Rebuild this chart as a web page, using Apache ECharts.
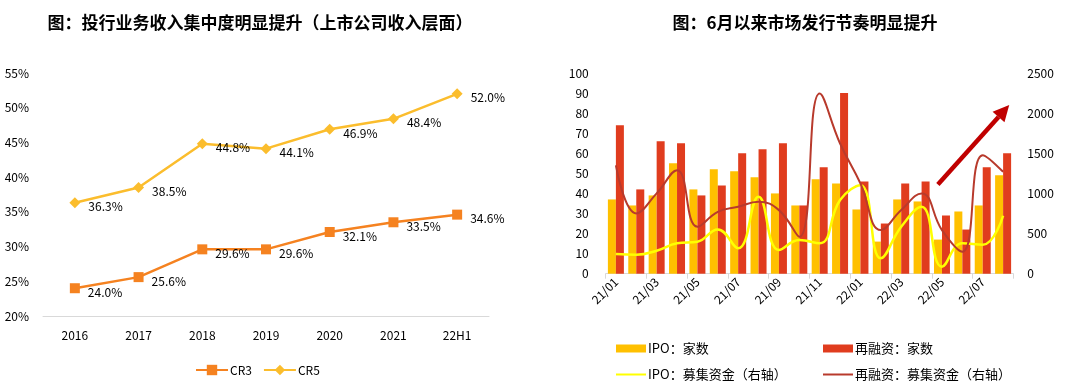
<!DOCTYPE html>
<html><head><meta charset="utf-8">
<script src="https://cdn.jsdelivr.net/npm/echarts@6/dist/echarts.min.js"></script>
<style>html,body{margin:0;padding:0;background:#fff}#c{width:1065px;height:389px}</style>
</head><body><div id="c"></div>
<script>
// ---- Left chart data ----
const years = ['2016','2017','2018','2019','2020','2021','22H1'];
const cr3 = [24.0, 25.6, 29.6, 29.6, 32.1, 33.5, 34.6];
const cr5 = [36.3, 38.5, 44.8, 44.1, 46.9, 48.4, 52.0];

// ---- Right chart data ----
const months = ['21/01','21/02','21/03','21/04','21/05','21/06','21/07','21/08','21/09','21/10','21/11','21/12',
                '22/01','22/02','22/03','22/04','22/05','22/06','22/07','22/08'];
const ipoCount  = [37,34,39,55,42,52,51,48,40,34,47,45,32,16,37,36,17,31,34,49];
const refiCount = [74,42,66,65,39,44,60,62,65,34,53,90,46,25,45,46,29,22,53,60];
const ipoFunds  = [245,236,286,378,398,552,316,958,295,419,378,917,1103,191,585,834,87,378,360,722];
const refiFunds = [1349,751,1000,1290,585,771,834,896,792,460,2244,1622,1124,543,792,1000,543,274,1477,1269];
// arrow annotation (category index, left-axis value)
const arrowFrom = [15.8, 44.5];
const arrowTo = [19.3, 84];

const FONT = "'Noto Sans CJK SC', 'Noto Sans', sans-serif";
const chart = echarts.init(document.getElementById('c'));
const pctLabel = p => p.value.toFixed(1) + '%';

chart.setOption({
  animation: false,
  textStyle: {fontFamily: FONT},
  title: [
    {text: '图：投行业务收入集中度明显提升（上市公司收入层面）', left: 255, top: 9, textAlign: 'center',
     textStyle: {fontSize: 17, fontWeight: 'bold', color: '#000', fontFamily: FONT}},
    {text: '图：6月以来市场发行节奏明显提升', left: 800, top: 9, textAlign: 'center',
     textStyle: {fontSize: 17, fontWeight: 'bold', color: '#000', fontFamily: FONT}}
  ],
  legend: [
    {data: ['CR3','CR5'], left: 190, top: 359, itemWidth: 32, itemHeight: 13, itemGap: 11,
     textStyle: {fontSize: 12, color: '#000', fontFamily: FONT, padding: [0, 0, 0, -3]}},
    {data: [{name: 'IPO：家数', icon: 'rect'}], left: 611, top: 337, itemWidth: 30, itemHeight: 8,
     textStyle: {fontSize: 13, color: '#000', fontFamily: FONT, padding: [0, 0, 0, -3]}},
    {data: [{name: '再融资：家数', icon: 'rect'}], left: 818, top: 337, itemWidth: 30, itemHeight: 8,
     textStyle: {fontSize: 13, color: '#000', fontFamily: FONT, padding: [0, 0, 0, -3]}},
    {data: [{name: 'IPO：募集资金（右轴）', icon: 'rect'}], left: 611, top: 363, itemWidth: 30, itemHeight: 2,
     textStyle: {fontSize: 13, color: '#000', fontFamily: FONT, padding: [0, 0, 0, -3]}},
    {data: [{name: '再融资：募集资金（右轴）', icon: 'rect'}], left: 818, top: 363, itemWidth: 30, itemHeight: 2,
     textStyle: {fontSize: 13, color: '#000', fontFamily: FONT, padding: [0, 0, 0, -3]}}
  ],
  grid: [
    {left: 43, right: 576, top: 73, bottom: 73},
    {left: 605.7, right: 51.7, top: 73, bottom: 115.3}
  ],
  xAxis: [
    {gridIndex: 0, type: 'category', data: years, boundaryGap: true,
     axisLine: {lineStyle: {color: '#d9d9d9', width: 1}}, axisTick: {show: false},
     axisLabel: {color: '#000', fontSize: 12, margin: 13, fontFamily: FONT}},
    {gridIndex: 1, type: 'category', data: months, boundaryGap: true,
     axisLine: {lineStyle: {color: '#d9d9d9', width: 1}},
     axisTick: {show: true, interval: 1, length: 5, lineStyle: {color: '#d9d9d9'}},
     axisLabel: {interval: 1, rotate: 45, color: '#000', fontSize: 12, margin: 6, fontFamily: FONT}}
  ],
  yAxis: [
    {gridIndex: 0, type: 'value', min: 20, max: 55, interval: 5,
     axisLine: {show: false}, axisTick: {show: false}, splitLine: {show: false},
     axisLabel: {formatter: '{value}%', color: '#000', fontSize: 12, margin: 14, fontFamily: FONT}},
    {gridIndex: 1, type: 'value', min: 0, max: 100, interval: 10,
     axisLine: {show: false}, axisTick: {show: false}, splitLine: {show: false},
     axisLabel: {color: '#000', fontSize: 12, margin: 17, fontFamily: FONT}},
    {gridIndex: 1, type: 'value', min: 0, max: 2500, interval: 500, position: 'right',
     axisLine: {show: false}, axisTick: {show: false}, splitLine: {show: false},
     axisLabel: {formatter: v => String(v), color: '#000', fontSize: 12, margin: 14, fontFamily: FONT}}
  ],
  series: [
    {name: 'CR3', type: 'line', xAxisIndex: 0, yAxisIndex: 0, data: cr3,
     symbol: 'rect', symbolSize: 10, itemStyle: {color: '#F58220'},
     lineStyle: {color: '#F58220', width: 2.5},
     label: {show: true, position: 'right', distance: 8, offset: [0, 4], formatter: pctLabel,
             color: '#000', fontSize: 12, fontFamily: FONT}},
    {name: 'CR5', type: 'line', xAxisIndex: 0, yAxisIndex: 0, data: cr5,
     symbol: 'diamond', symbolSize: 11, itemStyle: {color: '#FBBD2D'},
     lineStyle: {color: '#FBBD2D', width: 2.5},
     label: {show: true, position: 'right', distance: 8, offset: [0, 4], formatter: pctLabel,
             color: '#000', fontSize: 12, fontFamily: FONT}},
    {name: 'IPO：家数', type: 'bar', xAxisIndex: 1, yAxisIndex: 1, data: ipoCount,
     barWidth: 8, barGap: '0%', itemStyle: {color: '#FFC000'}},
    {name: '再融资：家数', type: 'bar', xAxisIndex: 1, yAxisIndex: 1, data: refiCount,
     barWidth: 8, barGap: '0%', itemStyle: {color: '#E03C1E'}},
    {name: 'IPO：募集资金（右轴）', type: 'line', xAxisIndex: 1, yAxisIndex: 2, data: ipoFunds,
     smooth: 0.45, showSymbol: false, symbol: 'none', itemStyle: {color: '#FFFF00'},
     lineStyle: {color: '#FFFF00', width: 2.5}},
    {name: '再融资：募集资金（右轴）', type: 'line', xAxisIndex: 1, yAxisIndex: 2, data: refiFunds,
     smooth: 0.45, showSymbol: false, symbol: 'none', itemStyle: {color: '#B83A2C'},
     lineStyle: {color: '#B83A2C', width: 2}}
  ]
});

// Arrow annotation positioned through the chart's own scales
function toPx(pt) {
  const i = Math.floor(pt[0]), f = pt[0] - i;
  const a = chart.convertToPixel({xAxisIndex: 1, yAxisIndex: 1}, [i, pt[1]]);
  const b = chart.convertToPixel({xAxisIndex: 1, yAxisIndex: 1}, [i + 1, pt[1]]);
  return [a[0] + (b[0] - a[0]) * f, a[1]];
}
const p0 = toPx(arrowFrom), p1 = toPx(arrowTo);
const ang = Math.atan2(p1[1] - p0[1], p1[0] - p0[0]);
const headLen = 16, headW = 8;
const base = [p1[0] - headLen * Math.cos(ang), p1[1] - headLen * Math.sin(ang)];
const nx = -Math.sin(ang), ny = Math.cos(ang);
chart.setOption({
  graphic: [
    {type: 'line', shape: {x1: p0[0], y1: p0[1], x2: base[0], y2: base[1]},
     style: {stroke: '#C00000', lineWidth: 4.5}, z: 100},
    {type: 'polygon', shape: {points: [p1, [base[0] + nx * headW, base[1] + ny * headW], [base[0] - nx * headW, base[1] - ny * headW]]},
     style: {fill: '#C00000'}, z: 100}
  ]
});
</script></body></html>
